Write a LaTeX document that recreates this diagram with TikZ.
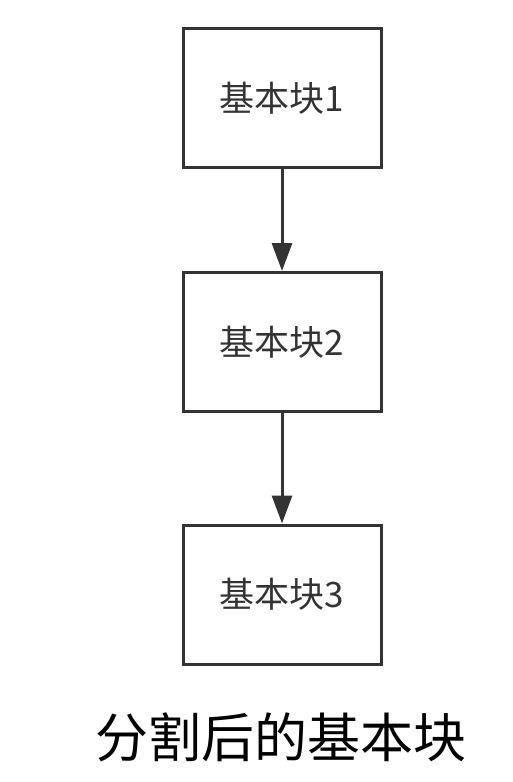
\documentclass[tikz,border=0pt]{standalone}
\usepackage{fontspec}
\newfontfamily\cjk{Noto Sans CJK SC}
\usetikzlibrary{arrows.meta}
\definecolor{linegray}{HTML}{333333}
\begin{document}
\begin{tikzpicture}[x=1pt,y=-1pt,
  blockbox/.style={draw=linegray, line width=3pt, minimum width=198pt, minimum height=139pt, inner sep=0pt, text=linegray, font=\cjk\fontsize{35}{40}\selectfont},
  flow/.style={draw=linegray, line width=3pt, -{Triangle[length=28pt,width=20pt]}}]
\useasboundingbox (0,0) rectangle (513,782);
\node[blockbox] (b1) at (282,98) {基本块1};
\node[blockbox] (b2) at (282,342) {基本块2};
\node[blockbox] (b3) at (282,594.5) {基本块3};
\draw[flow] (b1) -- (b2);
\draw[flow] (b2) -- (b3);
\node[font=\cjk\fontsize{53}{60}\selectfont, text=black, inner sep=0pt] (cap) at (281,737) {分割后的基本块};
\end{tikzpicture}
\end{document}
